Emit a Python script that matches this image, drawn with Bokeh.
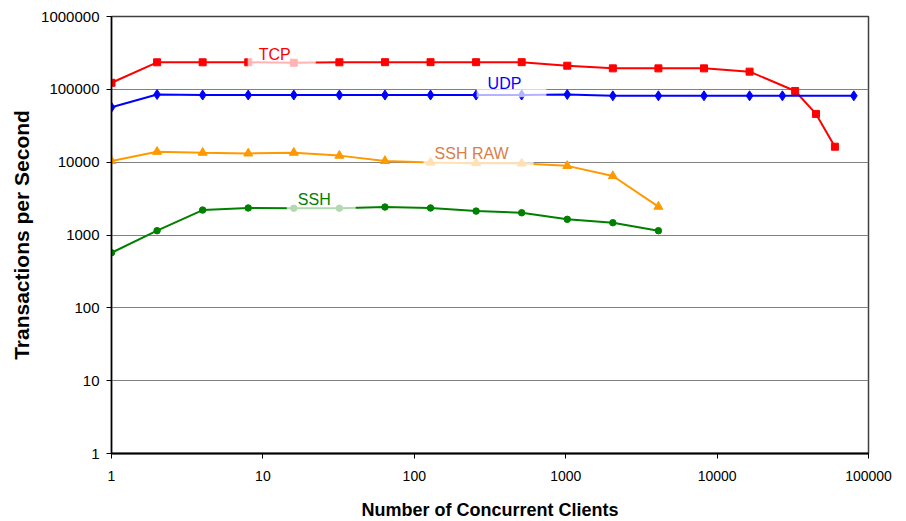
from bokeh.plotting import figure
from bokeh.models import Range1d, FixedTicker, PrintfTickFormatter, Label, ColumnDataSource
from bokeh.embed import file_html
from bokeh.resources import INLINE

# ---------------- data ----------------
x_tcp = [1, 2, 4, 8, 16, 32, 64, 128, 256, 512, 1024, 2048, 4096, 8192, 16384, 32768, 45000, 60000]
tcp = [123000, 235000, 235000, 235000, 232000, 235000, 236000, 236000, 236000, 236000,
       211000, 194000, 194000, 194000, 175000, 95000, 46000, 16300]

x_udp = [1, 2, 4, 8, 16, 32, 64, 128, 256, 512, 1024, 2048, 4096, 8192, 16384, 27000, 80000]
udp = [56600, 85000, 83500, 83500, 83500, 83500, 83500, 83500, 83500, 83500,
       85000, 81500, 81500, 81500, 81500, 81500, 81500]

x_raw = [1, 2, 4, 8, 16, 32, 64, 128, 256, 512, 1024, 2048, 4096]
ssh_raw = [10400, 13900, 13500, 13200, 13500, 12300, 10400, 9900, 9700, 9600, 8900, 6450, 2450]

x_ssh = [1, 2, 4, 8, 16, 32, 64, 128, 256, 512, 1024, 2048, 4096]
ssh = [571, 1146, 2200, 2350, 2330, 2330, 2420, 2350, 2130, 2020, 1640, 1475, 1146]

x_ticks = [1, 10, 100, 1000, 10000, 100000]
y_ticks = [1, 10, 100, 1000, 10000, 100000, 1000000]

series_names = ["TCP", "UDP", "SSH RAW", "SSH"]
# index of the data point each in-chart label is attached to
label_point_index = [3, 8, 7, 4]

FONT = "Liberation Sans"

p = figure(
    x_axis_type="log", y_axis_type="log",
    x_range=Range1d(x_ticks[0], x_ticks[-1]),
    y_range=Range1d(y_ticks[0], y_ticks[-1]),
    frame_width=757, frame_height=437,
    min_border_left=111, min_border_right=30, min_border_top=16, min_border_bottom=68,
    output_backend="svg", toolbar_location=None,
    background_fill_color="white", border_fill_color="white",
)

# outline / grid
p.outline_line_color = "#404040"
p.outline_line_width = 1.5
p.xgrid.grid_line_color = None
p.ygrid.grid_line_color = "#808080"
p.ygrid.grid_line_width = 1

# axes
p.xaxis.ticker = FixedTicker(ticks=x_ticks)
p.yaxis.ticker = FixedTicker(ticks=y_ticks)
p.xaxis.formatter = PrintfTickFormatter(format="%d")
p.yaxis.formatter = PrintfTickFormatter(format="%d")
for ax in (p.xaxis, p.yaxis):
    ax.axis_line_color = "black"
    ax.major_tick_line_color = "black"
    ax.major_tick_out = 5
    ax.major_tick_in = 0
    ax.minor_tick_line_color = None
    ax.major_label_text_font = FONT
    ax.major_label_text_color = "black"
    ax.axis_label_text_font = FONT
    ax.axis_label_text_font_style = "bold"
    ax.axis_label_text_color = "black"
p.xaxis.axis_line_width = 2
p.yaxis.axis_line_width = 1.5
p.xaxis.major_label_text_font_size = "14px"
p.yaxis.major_label_text_font_size = "15px"
p.xaxis.major_label_standoff = 12
p.yaxis.major_label_standoff = 7
p.xaxis.axis_label = "Number of Concurrent Clients"
p.yaxis.axis_label = "Transactions per Second"
p.xaxis.axis_label_text_font_size = "18px"
p.yaxis.axis_label_text_font_size = "21px"
p.xaxis.axis_label_standoff = 16
p.yaxis.axis_label_standoff = 5

# series
specs = [
    (x_tcp, tcp, "#FF0000", "square", 7),
    (x_udp, udp, "#0000FF", "diamond", 10),
    (x_raw, ssh_raw, "#FF9900", "triangle", 9),
    (x_ssh, ssh, "#008000", "circle", 6.5),
]
for xs, ys, col, marker, size in specs:
    src = ColumnDataSource(dict(x=xs, y=ys))
    p.line("x", "y", source=src, line_color=col, line_width=2)
    p.scatter("x", "y", source=src, marker=marker, size=size,
              fill_color=col, line_color=col)

# in-chart series labels (semi-transparent white boxes, like Excel data labels)
label_colors = ["#FF0000", "#0000FF", "#D9804A", "#008000"]
label_offsets = [(-0.5, 6.6), (0.5, 9.7), (-7, 7.3), (-7, 7.3)]
for (xs, ys, _, _, _), name, idx, col, (dx, dy) in zip(specs, series_names, label_point_index,
                                                      label_colors, label_offsets):
    p.add_layout(Label(
        x=xs[idx], y=ys[idx], x_offset=dx, y_offset=dy,
        text=name, text_font=FONT, text_font_size="16px", text_color=col,
        text_align="left", text_baseline="alphabetic",
        background_fill_color="white", background_fill_alpha=0.7,
        padding=dict(top=2, right=25, bottom=5, left=11),
    ))

open("out.html", "w").write(file_html(p, INLINE))
